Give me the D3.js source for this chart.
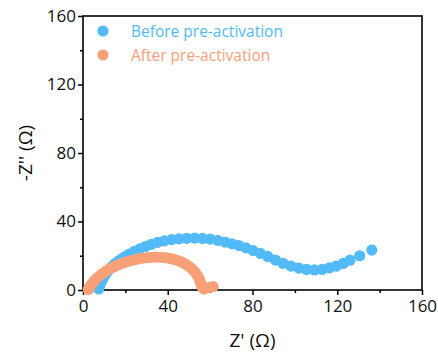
<!DOCTYPE html>
<html>
<head>
<meta charset="utf-8">
<script src="https://cdn.jsdelivr.net/npm/d3@7"></script>
<style>
  html, body { margin: 0; padding: 0; background: #fff; }
  svg { display: block; font-family: "Open Sans", "Noto Sans", sans-serif; }
</style>
</head>
<body>
<svg id="chart" width="438" height="358"></svg>
<script>
// Nyquist data: Z' (Ω) and -Z'' (Ω)
const seriesNames = ["Before pre-activation", "After pre-activation"];
const seriesColors = ["#52baf6", "#f8a078"];

const beforeZre = [7.4, 7.9, 8.6, 9.4, 10.3, 11.4, 12.6, 13.9, 15.3, 16.8, 18.4, 20.0, 22.0, 24.3, 26.8, 29.4, 32.2, 35.2, 38.4, 41.8, 45.3, 49.0, 52.7, 56.4, 60.0, 63.6, 67.0, 70.3, 73.6, 76.9, 80.3, 83.7, 87.2, 90.8, 94.4, 98.1, 101.8, 105.5, 109.2, 112.8, 116.3, 119.6, 122.8, 126.0, 130.6, 136.3];
const beforeZim = [0.6, 2.6, 4.7, 6.7, 8.6, 10.5, 12.3, 14.0, 15.6, 17.0, 18.3, 19.6, 21.0, 22.6, 24.0, 25.4, 26.7, 27.8, 28.7, 29.4, 29.9, 30.2, 30.3, 30.1, 29.7, 29.0, 28.0, 27.0, 25.9, 24.6, 23.0, 21.4, 19.6, 17.5, 15.6, 14.0, 12.8, 12.0, 11.7, 12.0, 12.9, 14.0, 15.5, 17.4, 20.0, 23.3];

const afterZre = [2.5, 3.2, 4.0, 5.0, 6.0, 7.2, 8.5, 10.0, 11.5, 13.0, 14.7, 16.5, 18.3, 20.2, 22.2, 24.2, 26.3, 28.4, 30.5, 32.6, 34.7, 36.8, 38.8, 40.8, 42.7, 44.5, 46.2, 47.8, 49.3, 50.6, 51.8, 52.8, 53.7, 54.4, 55.0, 55.4, 55.8, 56.2, 57.0, 59.3, 61.4];
const afterZim = [0.3, 1.8, 3.3, 4.8, 6.2, 7.6, 9.0, 10.3, 11.5, 12.6, 13.6, 14.6, 15.5, 16.3, 17.0, 17.6, 18.2, 18.6, 18.9, 19.1, 19.2, 19.1, 18.9, 18.5, 18.0, 17.3, 16.5, 15.5, 14.4, 13.2, 11.9, 10.5, 9.0, 7.5, 6.0, 4.5, 3.0, 1.7, 0.6, 1.4, 2.0];

const xTicks = [0, 40, 80, 120, 160];
const yTicks = [0, 40, 80, 120, 160];
const xMinorTicks = [20, 60, 100, 140];
const yMinorTicks = [20, 60, 100, 140];

const svg = d3.select("#chart");
const plotLeft = 83, plotRight = 422, plotTop = 16, plotBottom = 290;
const markerRadius = 5.6;

const x = d3.scaleLinear().domain([0, 160]).range([plotLeft, plotRight]);
const y = d3.scaleLinear().domain([0, 160]).range([plotBottom, plotTop]);

// axes with major ticks (labelled) and minor ticks (unlabelled)
const xAxis = svg.append("g").attr("transform", `translate(0,${plotBottom})`)
  .call(d3.axisBottom(x).tickValues(xTicks).tickSize(5).tickSizeOuter(0).tickPadding(3));
const xMinor = svg.append("g").attr("transform", `translate(0,${plotBottom})`)
  .call(d3.axisBottom(x).tickValues(xMinorTicks).tickSize(3).tickSizeOuter(0).tickFormat(""));
const yAxis = svg.append("g").attr("transform", `translate(${plotLeft},0)`)
  .call(d3.axisLeft(y).tickValues(yTicks).tickSize(5).tickSizeOuter(0).tickPadding(2));
const yMinor = svg.append("g").attr("transform", `translate(${plotLeft},0)`)
  .call(d3.axisLeft(y).tickValues(yMinorTicks).tickSize(3).tickSizeOuter(0).tickFormat(""));

[xAxis, xMinor, yAxis, yMinor].forEach(g => {
  g.select(".domain").remove();
  g.selectAll("line").attr("stroke", "#000").attr("stroke-width", 1.5);
  g.selectAll("text").attr("fill", "#111").style("font-size", "17px")
    .style("font-family", '"Open Sans", sans-serif');
});
xAxis.selectAll("text").attr("dy", "0.85em");

// frame
svg.append("rect")
  .attr("x", plotLeft).attr("y", plotTop)
  .attr("width", plotRight - plotLeft).attr("height", plotBottom - plotTop)
  .attr("fill", "none").attr("stroke", "#000").attr("stroke-width", 1.6);

// data points, first series underneath
const series = [
  { zre: beforeZre, zim: beforeZim },
  { zre: afterZre, zim: afterZim }
];
series.forEach((s, i) => {
  svg.append("g").selectAll("circle")
    .data(s.zre.map((v, k) => [v, s.zim[k]]))
    .join("circle")
    .attr("cx", d => x(d[0]))
    .attr("cy", d => y(d[1]))
    .attr("r", markerRadius)
    .attr("fill", seriesColors[i]);
});

// legend
const legend = svg.append("g");
seriesNames.forEach((name, i) => {
  const ly = 31 + i * 24;
  legend.append("circle").attr("cx", 103).attr("cy", ly).attr("r", markerRadius).attr("fill", seriesColors[i]);
  legend.append("text").attr("x", 131).attr("y", ly + 5.5)
    .attr("fill", seriesColors[i]).style("font-size", "15.5px")
    .text(name);
});

// axis titles
svg.append("text")
  .attr("x", (plotLeft + plotRight) / 2).attr("y", 347)
  .attr("text-anchor", "middle").attr("fill", "#111")
  .style("font-size", "19px")
  .text("Z' (Ω)");

svg.append("text")
  .attr("transform", `translate(32,${(plotTop + plotBottom) / 2}) rotate(-90)`)
  .attr("text-anchor", "middle").attr("fill", "#111")
  .style("font-size", "19px")
  .text("-Z'' (Ω)");
</script>
</body>
</html>
